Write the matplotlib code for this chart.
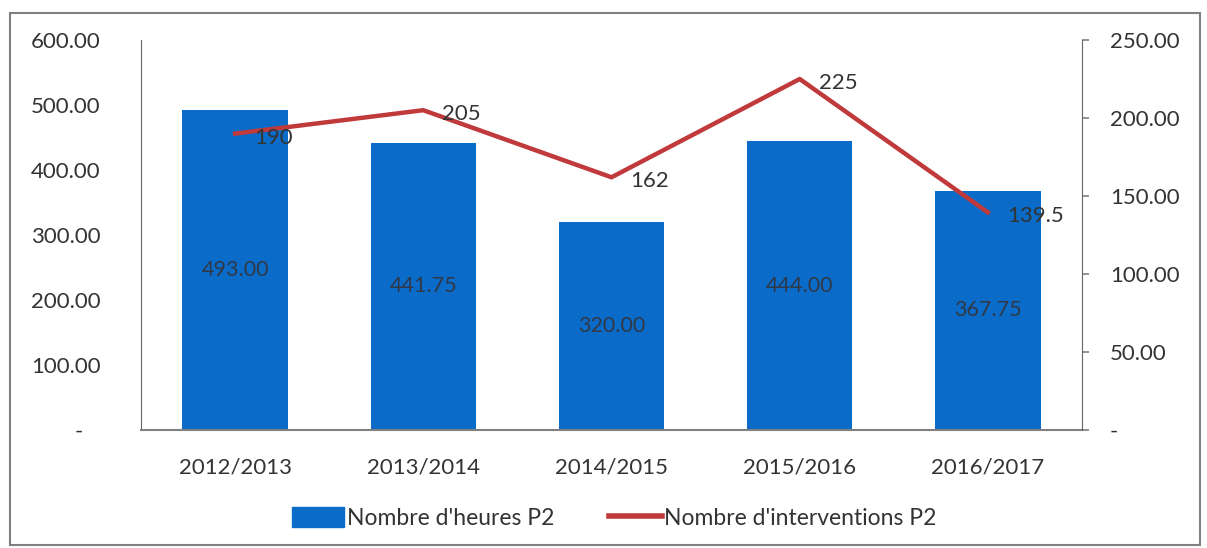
import matplotlib
matplotlib.use('Agg')
import matplotlib.pyplot as plt
from matplotlib.patches import Rectangle
from matplotlib.ticker import FuncFormatter
import numpy as np

# values
years = ['2012/2013', '2013/2014', '2014/2015', '2015/2016', '2016/2017']
heures = [493.00, 441.75, 320.00, 444.00, 367.75]
interventions = [190, 205, 162, 225, 139.5]
left_ticks = [0, 100, 200, 300, 400, 500, 600]
right_ticks = [0, 50, 100, 150, 200, 250]

plt.rcParams['font.family'] = ['Lato', 'DejaVu Sans']
txt = '#333333'
blue = '#0A6CC8'
red = '#C0393B'

fig = plt.figure(figsize=(12.07, 5.48), dpi=100)
ax1 = fig.add_axes([141/1207, 1-430/548, (1082-141)/1207, (430-40)/548])
ax2 = ax1.twinx()

x = np.arange(len(years))
ax1.bar(x, heures, width=0.56, color=blue, zorder=2)
for xi, h in zip(x, heures):
    ax1.text(xi, h/2, '{:.2f}'.format(h), ha='center', va='center',
             fontsize=15.5, color='#303848', zorder=3)

ax2.plot(x, interventions, color=red, lw=3.2, zorder=4)
for xi, v in zip(x, interventions):
    lab = '{:g}'.format(v)
    ax2.text(xi + 0.1, v - 2.5, lab, ha='left', va='center', fontsize=16,
             color=txt, zorder=5)

ax1.set_xlim(-0.5, len(years) - 0.5)
ax1.set_ylim(0, 600)
ax2.set_ylim(0, 250)
ax1.set_xticks(x)
ax1.set_xticklabels(years)
ax1.set_yticks(left_ticks)
ax2.set_yticks(right_ticks)

def fmt_left(v, pos):
    return '-   ' if v == 0 else '{:.2f}'.format(v)

def fmt_right(v, pos):
    return '-' if v == 0 else '{:.2f}'.format(v)

ax1.yaxis.set_major_formatter(FuncFormatter(fmt_left))
ax2.yaxis.set_major_formatter(FuncFormatter(fmt_right))

ax1.tick_params(axis='y', length=0, pad=29, labelsize=16, labelcolor=txt)
ax1.tick_params(axis='x', length=0, pad=20, labelsize=16, labelcolor=txt)
ax2.tick_params(axis='y', length=5, width=1.2, color='#808080', pad=15,
                labelsize=16, labelcolor=txt)

for ax in (ax1, ax2):
    ax.spines['top'].set_visible(False)
ax1.spines['right'].set_visible(False)
ax2.spines['left'].set_visible(False)
ax2.spines['bottom'].set_visible(False)
ax1.spines['left'].set_color('#666666')
ax1.spines['bottom'].set_color('#808080')
ax1.spines['bottom'].set_linewidth(1.5)
ax2.spines['right'].set_color('#666666')
ax2.patch.set_visible(False)

# legend
h1 = Rectangle((0, 0), 1, 1, color=blue)
h2 = plt.Line2D([0], [0], color=red, lw=4)
fig.legend([h1, h2], ['Nombre d\'heures P2', 'Nombre d\'interventions P2'],
           loc='center', bbox_to_anchor=(614/1207, 1-518/548), ncol=2,
           frameon=False, fontsize=16.5, handlelength=2.3, handleheight=1.0,
           handletextpad=0.1, columnspacing=2.4, labelcolor=txt)

# outer chart frame
fig.patches.append(Rectangle((10/1207, 3/548), 1190/1207, 532/548,
                             transform=fig.transFigure, fill=False,
                             edgecolor='#808080', lw=1.5))

fig.savefig('out.png', dpi=100)
